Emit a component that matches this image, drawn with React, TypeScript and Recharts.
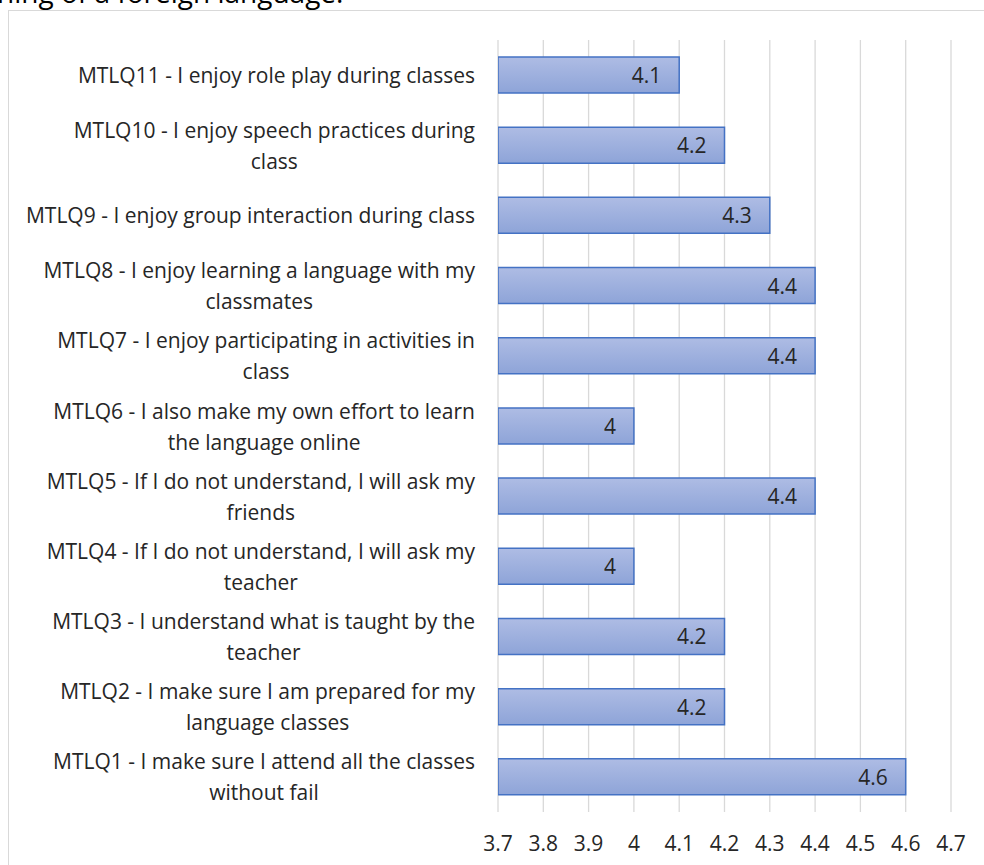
import React from 'react'
import { BarChart, Bar, XAxis, YAxis, CartesianGrid, LabelList } from 'recharts'

const questions = [
  'MTLQ11 - I enjoy role play during classes',
  'MTLQ10 - I enjoy speech practices during\nclass',
  'MTLQ9 - I enjoy group interaction during class',
  'MTLQ8 - I enjoy learning a language with my\nclassmates',
  'MTLQ7 - I enjoy participating in activities in\nclass',
  'MTLQ6 - I also make my own effort to learn\nthe language online',
  'MTLQ5 - If I do not understand, I will ask my\nfriends',
  'MTLQ4 - If I do not understand, I will ask my\nteacher',
  'MTLQ3 - I understand what is taught by the\nteacher',
  'MTLQ2 - I make sure I am prepared for my\nlanguage classes',
  'MTLQ1 - I make sure I attend all the classes\nwithout fail',
]
const scores = [4.1, 4.2, 4.3, 4.4, 4.4, 4, 4.4, 4, 4.2, 4.2, 4.6]
const xTicks = [3.7, 3.8, 3.9, 4, 4.1, 4.2, 4.3, 4.4, 4.5, 4.6, 4.7]

const data = questions.map((q, i) => ({ label: q, score: scores[i] }))

const FONT = '"Open Sans", sans-serif'
const FS = 21
const TXT = '#262626'

let ctx: CanvasRenderingContext2D | null = null
function textWidth(s: string) {
  if (!ctx) ctx = document.createElement('canvas').getContext('2d')
  if (!ctx) return s.length * FS * 0.5
  ctx.font = `${FS}px "Open Sans"`
  return ctx.measureText(s).width
}

const fmt = (v: number) => (Number.isInteger(v) ? String(v) : v.toFixed(1))

function QuestionTick(props: any) {
  const { x, y, payload } = props
  const lines: string[] = String(payload.value).split('\n')
  const w = Math.max(...lines.map(textWidth))
  const cx = x - w / 2
  return (
    <g>
      {lines.map((l, i) => (
        <text
          key={i}
          x={cx}
          y={y + (i - (lines.length - 1) / 2) * 31}
          textAnchor="middle"
          dominantBaseline="central"
          fontFamily={FONT}
          fontSize={FS}
          fill={TXT}
        >
          {l}
        </text>
      ))}
    </g>
  )
}

function ScaleTick(props: any) {
  const { x, y, payload } = props
  return (
    <text x={x} y={y} textAnchor="middle" dominantBaseline="central" fontFamily={FONT} fontSize={FS} fill={TXT}>
      {fmt(payload.value)}
    </text>
  )
}

function ValueLabel(props: any) {
  const { x, y, width, height, value } = props
  return (
    <text
      x={x + width - 18}
      y={y + height / 2}
      textAnchor="end"
      dominantBaseline="central"
      fontFamily={FONT}
      fontSize={FS}
      fill={TXT}
    >
      {fmt(value)}
    </text>
  )
}

export default function App() {
  return (
    <div style={{ position: 'fixed', left: 0, top: 0, width: 984, height: 865, overflow: 'hidden', background: '#fff' }}>
      <div
        style={{
          position: 'absolute',
          left: -3,
          top: -22,
          fontFamily: FONT,
          fontSize: 28,
          lineHeight: '28px',
          color: '#000',
          whiteSpace: 'nowrap',
        }}
      >
        ning of a foreign language:
      </div>
      <div
        style={{
          position: 'absolute',
          left: 8,
          top: 10,
          width: 1100,
          height: 1000,
          border: '1px solid #d9d9d9',
        }}
      />
      <div style={{ position: 'absolute', left: 0, top: 0 }}>
        <BarChart
          width={984}
          height={865}
          layout="vertical"
          data={data}
          margin={{ top: 40, right: 33, left: 0, bottom: 0 }}
        >
          <defs>
            <linearGradient id="barFill" x1="0" y1="0" x2="0" y2="1">
              <stop offset="0%" stopColor="#aebce4" />
              <stop offset="100%" stopColor="#8ea4d8" />
            </linearGradient>
          </defs>
          <CartesianGrid horizontal={false} stroke="#d9d9d9" strokeWidth={1.3} />
          <XAxis
            type="number"
            domain={[3.7, 4.7]}
            ticks={xTicks}
            allowDataOverflow
            axisLine={false}
            tickLine={false}
            tickSize={0}
            tickMargin={31}
            height={53}
            interval={0}
            tick={<ScaleTick />}
          />
          <YAxis
            type="category"
            dataKey="label"
            width={498}
            axisLine={false}
            tickLine={false}
            tickSize={0}
            tickMargin={23}
            interval={0}
            tick={<QuestionTick />}
          />
          <Bar
            dataKey="score"
            barSize={36}
            fill="url(#barFill)"
            stroke="#4472c4"
            strokeWidth={1.5}
            isAnimationActive={false}
          >
            <LabelList dataKey="score" content={<ValueLabel />} />
          </Bar>
        </BarChart>
      </div>
    </div>
  )
}
